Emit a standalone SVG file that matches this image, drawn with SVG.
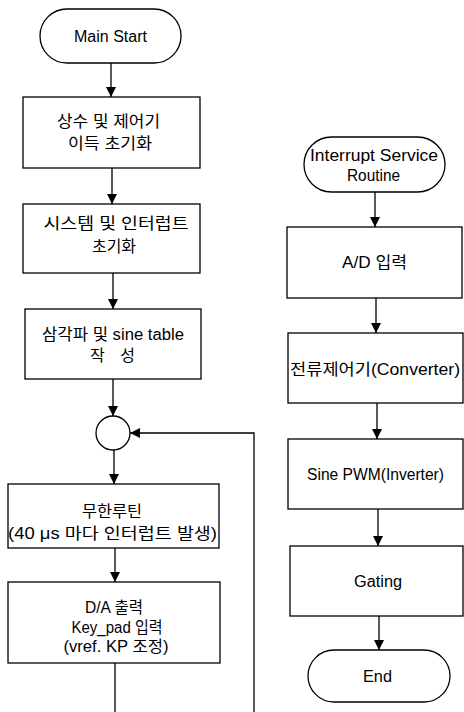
<svg xmlns="http://www.w3.org/2000/svg" width="464" height="712" viewBox="0 0 464 712">
<defs>
<marker id="ah" viewBox="0 0 10 10" refX="10" refY="5" markerWidth="10" markerHeight="10" markerUnits="userSpaceOnUse" orient="auto">
<path d="M0,0 L10,5 L0,10 Z" fill="#000"/>
</marker>
</defs>
<style>
.s{fill:#fff;stroke:#000;stroke-width:1.3}
.t{font-family:"Liberation Sans","Noto Sans CJK KR",sans-serif;font-size:16px;fill:#000;text-anchor:middle;dominant-baseline:central}
.c{fill:none;stroke:#000;stroke-width:1.3}
</style>
<rect width="464" height="712" fill="#fff"/>
<g id="connectors">
<path class="c" d="M111,63 V97" marker-end="url(#ah)"/>
<path class="c" d="M112,168 V204" marker-end="url(#ah)"/>
<path class="c" d="M113,273 V309" marker-end="url(#ah)"/>
<path class="c" d="M113,379 V416" marker-end="url(#ah)"/>
<path class="c" d="M114,450 V484" marker-end="url(#ah)"/>
<path class="c" d="M115,548 V582" marker-end="url(#ah)"/>
<path class="c" d="M115,663 V712"/>
<path class="c" d="M254,712 V433 H130" marker-end="url(#ah)"/>
<path class="c" d="M375,192 V227" marker-end="url(#ah)"/>
<path class="c" d="M376,298 V333" marker-end="url(#ah)"/>
<path class="c" d="M377,403 V439" marker-end="url(#ah)"/>
<path class="c" d="M378,509 V546" marker-end="url(#ah)"/>
<path class="c" d="M379,616 V650" marker-end="url(#ah)"/>
</g>
<g id="main-start">
<rect class="s" x="40" y="9" width="141" height="54" rx="27"/>
<text class="t" x="110.5" y="36" textLength="73" lengthAdjust="spacingAndGlyphs">Main Start</text>
</g>
<g id="init-const">
<rect class="s" x="23" y="97" width="177" height="71"/>
<text class="t" x="108.5" y="121" textLength="103" lengthAdjust="spacingAndGlyphs">상수 및 제어기</text>
<text class="t" x="110" y="143" textLength="84" lengthAdjust="spacingAndGlyphs">이득 초기화</text>
</g>
<g id="init-system">
<rect class="s" x="23" y="204" width="177" height="69"/>
<text class="t" x="116" y="223" textLength="145" lengthAdjust="spacingAndGlyphs">시스템 및 인터럽트</text>
<text class="t" x="114" y="246" textLength="44" lengthAdjust="spacingAndGlyphs">초기화</text>
</g>
<g id="table">
<rect class="s" x="25" y="309" width="176" height="70"/>
<text class="t" x="113" y="334" textLength="142" lengthAdjust="spacingAndGlyphs">삼각파 및 sine table</text>
<text class="t" x="112.5" y="355" textLength="45">작   성</text>
</g>
<g id="junction">
<circle class="s" cx="113" cy="433" r="17"/>
</g>
<g id="loop">
<rect class="s" x="8" y="484" width="211" height="64"/>
<text class="t" x="112" y="511" textLength="60" lengthAdjust="spacingAndGlyphs">무한루틴</text>
<text class="t" x="112.5" y="533" textLength="209" lengthAdjust="spacingAndGlyphs">(40 μs 마다  인터럽트 발생)</text>
</g>
<g id="da-out">
<rect class="s" x="8" y="582" width="212" height="81"/>
<text class="t" x="114" y="607" textLength="58" lengthAdjust="spacingAndGlyphs">D/A 출력</text>
<text class="t" x="117" y="627" textLength="91" lengthAdjust="spacingAndGlyphs">Key_pad 입력</text>
<text class="t" x="116" y="646" textLength="105" lengthAdjust="spacingAndGlyphs">(vref. KP 조정)</text>
</g>
<g id="isr">
<rect class="s" x="304" y="137" width="141" height="55" rx="27.5"/>
<text class="t" x="374" y="155" textLength="128" lengthAdjust="spacingAndGlyphs">Interrupt Service</text>
<text class="t" x="373.5" y="175" textLength="53" lengthAdjust="spacingAndGlyphs">Routine</text>
</g>
<g id="ad-in">
<rect class="s" x="287" y="227" width="175" height="71"/>
<text class="t" x="374.5" y="262" textLength="65" lengthAdjust="spacingAndGlyphs">A/D 입력</text>
</g>
<g id="converter">
<rect class="s" x="288" y="333" width="175" height="70"/>
<text class="t" x="375" y="369" textLength="170" lengthAdjust="spacingAndGlyphs">전류제어기(Converter)</text>
</g>
<g id="inverter">
<rect class="s" x="288" y="439" width="175" height="70"/>
<text class="t" x="375.5" y="474" textLength="137" lengthAdjust="spacingAndGlyphs">Sine PWM(Inverter)</text>
</g>
<g id="gating">
<rect class="s" x="290" y="546" width="173" height="70"/>
<text class="t" x="378" y="581" textLength="48" lengthAdjust="spacingAndGlyphs">Gating</text>
</g>
<g id="end">
<rect class="s" x="308" y="650" width="142" height="52" rx="26"/>
<text class="t" x="377.5" y="676" textLength="29" lengthAdjust="spacingAndGlyphs">End</text>
</g>
</svg>
